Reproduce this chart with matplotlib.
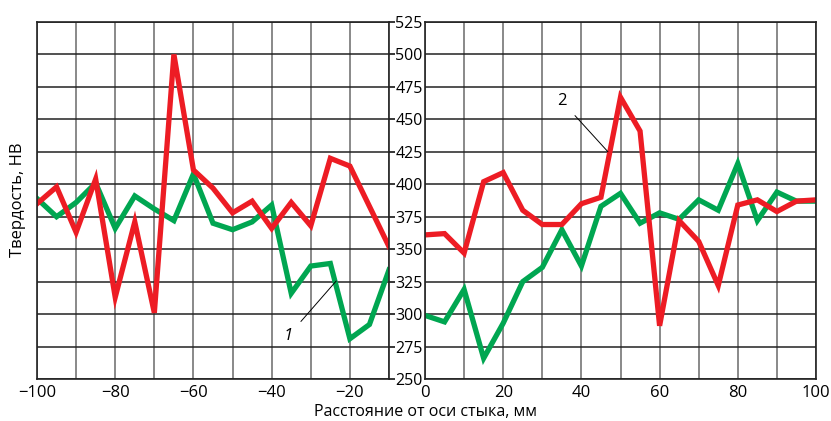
import matplotlib
matplotlib.use("Agg")
import matplotlib.pyplot as plt

plt.rcParams["font.family"] = ["Open Sans", "DejaVu Sans"]

# левая половина (от -100 до -10 мм)
x_izq = [-100, -95, -90, -85, -80, -75, -70, -65, -60, -55,
         -50, -45, -40, -35, -30, -25, -20, -15, -10]
hv1_izq = [389, 375, 386, 401, 366, 391, 381, 372, 408, 370,
           365, 371, 384, 316, 337, 339, 281, 292, 334]
hv2_izq = [385, 398, 363, 404, 313, 371, 301, 500, 411, 397,
           378, 387, 366, 386, 368, 420, 414, 383, 352]

# правая половина (от 0 до 100 мм)
x_der = [0, 5, 10, 15, 20, 25, 30, 35, 40, 45, 50,
         55, 60, 65, 70, 75, 80, 85, 90, 95, 100]
hv1_der = [299, 294, 319, 266, 293, 325, 336, 365, 337, 383, 393,
           370, 378, 373, 388, 380, 416, 372, 394, 387, 387]
hv2_der = [361, 362, 347, 402, 409, 380, 369, 369, 385, 390, 467,
           441, 291, 372, 356, 322, 384, 388, 379, 387, 388]

y_ticks = [250, 275, 300, 325, 350, 375, 400, 425, 450, 475, 500, 525]
xt_izq = [-100, -80, -60, -40, -20]
xt_der = [0, 20, 40, 60, 80, 100]

ROJO = "#ed1c24"
VERDE = "#00a651"

fig = plt.figure(figsize=(8.31, 4.21), dpi=100)
ax_izq = fig.add_axes([37 / 831, 1 - 379 / 421, 352 / 831, 357 / 421])
ax_der = fig.add_axes([425 / 831, 1 - 379 / 421, 391 / 831, 357 / 421])


def preparar_eje(eje, xmin, xmax, xticks):
    eje.set_xlim(xmin, xmax)
    eje.set_ylim(250, 525)
    eje.set_xticks(xticks)
    eje.set_xticks(range(xmin, xmax + 1, 10), minor=True)
    eje.set_yticks(y_ticks)
    eje.grid(True, axis="x", which="both", color="#6a6a6a", linewidth=1.1)
    eje.grid(True, axis="y", color="#222222", linewidth=1.1)
    eje.set_axisbelow(True)
    eje.tick_params(axis="x", which="both", length=0, labelsize=12, pad=4.5)
    for sp in eje.spines.values():
        sp.set_linewidth(1.2)
        sp.set_color("#222222")


preparar_eje(ax_izq, -100, -10, xt_izq)
preparar_eje(ax_der, 0, 100, xt_der)

ax_izq.yaxis.tick_right()
ax_izq.tick_params(axis="y", length=4, width=1.1, pad=0.5, labelsize=11.5)
ax_der.tick_params(axis="y", left=False, labelleft=False)

ax_izq.plot(x_izq, hv1_izq, color=VERDE, linewidth=3.8, solid_joinstyle="miter")
ax_izq.plot(x_izq, hv2_izq, color=ROJO, linewidth=3.8, solid_joinstyle="miter")
ax_der.plot(x_der, hv1_der, color=VERDE, linewidth=3.8, solid_joinstyle="miter")
ax_der.plot(x_der, hv2_der, color=ROJO, linewidth=3.8, solid_joinstyle="miter")

# выноски
ax_izq.annotate("1", xy=(-23.5, 325.5), xytext=(-35.8, 283), fontsize=12,
                style="italic", ha="center", va="center",
                arrowprops=dict(arrowstyle="-", color="black", linewidth=0.7,
                                shrinkA=6, shrinkB=0))
ax_der.annotate("2", xy=(46.8, 425), xytext=(35, 464), fontsize=12,
                ha="center", va="center",
                arrowprops=dict(arrowstyle="-", color="black", linewidth=0.7,
                                shrinkA=6, shrinkB=0))

fig.text(18 / 831, 0.525, "Твердость, НВ", rotation=90, ha="center",
         va="center", fontsize=12)
fig.text(0.512, 1 - 404 / 421, "Расстояние от оси стыка, мм", ha="center",
         va="top", fontsize=11.5)

fig.savefig("out.png", dpi=100)
